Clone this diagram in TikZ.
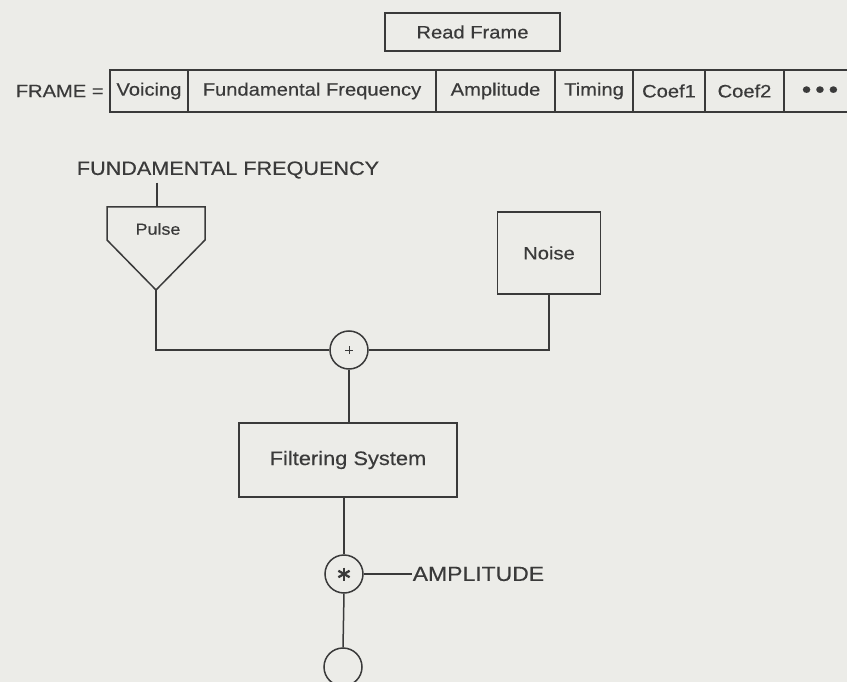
\documentclass[tikz,border=0pt]{standalone}
\usepackage{fontspec}
\setmainfont{Liberation Sans}[FakeStretch=1.12,FakeBold=0.35]
\definecolor{bg}{RGB}{236,236,232}
\definecolor{ink}{RGB}{58,58,58}
\begin{document}
\begin{tikzpicture}[x=1pt,y=-1pt,line width=1.5pt,color=ink,
  box/.style={draw,rectangle,inner sep=0pt,outer sep=0pt,font=\fontsize{18}{20}\selectfont},
  cell/.style={box,minimum height=42pt},
  junction/.style={draw,circle,minimum size=38pt,inner sep=0pt},
  lbl/.style={font=\fontsize{18}{20}\selectfont}]
\fill[bg] (0,0) rectangle (847,682);
\useasboundingbox (0,0) rectangle (847,682);
\clip (0,0) rectangle (847,682);

% Read Frame
\node[box,minimum width=175pt,minimum height=38pt] (read) at (472.5,32) {Read Frame};

% Frame row
\node[lbl,anchor=west,inner sep=0pt] (framelbl) at (15,91) {FRAME =};
\node[cell,minimum width=78pt]  (voicing) at (149,91) {Voicing};
\node[cell,minimum width=248pt] (fund)    at (312,91) {Fundamental Frequency};
\node[cell,minimum width=119pt] (ampc)    at (495.5,91) {Amplitude};
\node[cell,minimum width=78pt]  (timing)  at (594,91) {Timing};
\node[cell,minimum width=72pt]  (coefa)   at (669,91) {Coef1};
\node[cell,minimum width=79pt]  (coefb)   at (744.5,91) {Coef2};
\node[font=\fontsize{24}{26}\selectfont,inner sep=0pt] (dots) at (820,92) {•\,•\,•};
\coordinate (rowend) at (847,91);
\draw (coefb.north east) -- (coefb.north east -| rowend);
\draw (coefb.south east) -- (coefb.south east -| rowend);

% Pulse
\node[font=\fontsize{19.3}{21}\selectfont] (fflbl) at (228,170) {FUNDAMENTAL FREQUENCY};
\coordinate (ptop) at (157,207);
\coordinate (ptip) at (156,290);
\draw (107,207) -- (205,207) -- (205,240) -- (ptip) -- (107,240) -- cycle;
\node[font=\fontsize{16}{18}\selectfont] (pulse) at (158,229) {Pulse};
\draw (fflbl.south -| ptop) -- (ptop);

% Noise
\node[box,minimum width=103pt,minimum height=82pt] (noise) at (549,253) {Noise};

% adder
\node[junction] (plus) at (349,350) {};
\draw[line width=1pt] ([xshift=-4pt]plus.center) -- ([xshift=4pt]plus.center);
\draw[line width=1pt] ([yshift=-4pt]plus.center) -- ([yshift=4pt]plus.center);
\draw (ptip) |- (plus.west);
\draw (noise.south) |- (plus.east);

% Filtering
\node[box,minimum width=218pt,minimum height=74pt,font=\fontsize{19.5}{21}\selectfont] (filt) at (348,460) {Filtering System};
\draw (plus.south) -- (plus.south |- filt.north);

% multiplier
\node[junction] (star) at (344,574) {};
\foreach \a in {90,30,150}
  \draw[line width=2.3pt] (star.center) ++(\a:6.5pt) -- ++(\a+180:13pt);
\draw (star.north |- filt.south) -- (star.north);
\node[anchor=west,inner sep=0pt,font=\fontsize{20.5}{22}\selectfont] (amp) at (412,574) {AMPLITUDE};
\draw (star.east) -- (amp.west);

% output
\node[junction] (out) at (343,667) {};
\draw (star.south) -- (out.north);
\end{tikzpicture}
\end{document}
